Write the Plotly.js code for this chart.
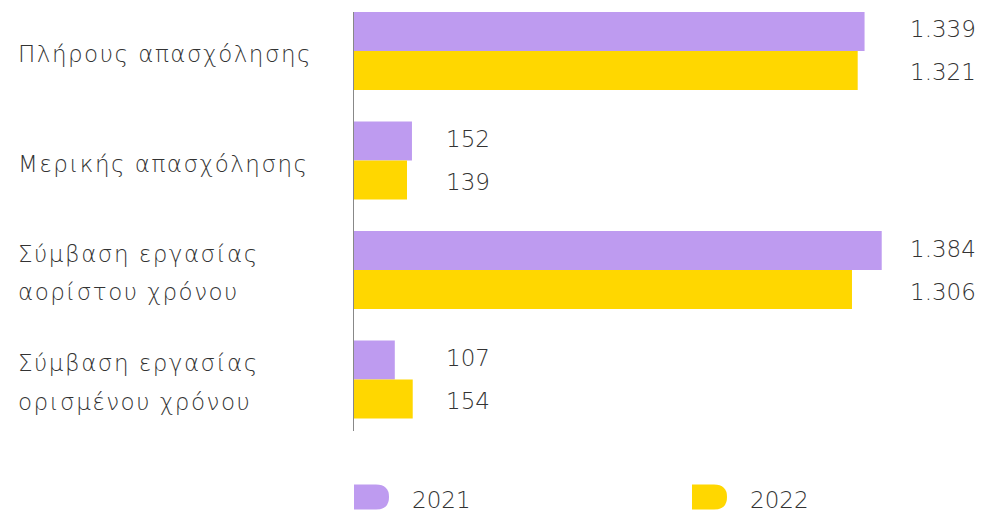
<!DOCTYPE html>
<html>
<head>
<meta charset="utf-8">
<script src="https://cdn.plot.ly/plotly-3.0.1.min.js"></script>
<style>html,body{margin:0;padding:0;background:#fff;}#chart{width:984px;height:515px;}</style>
</head>
<body>
<div id="chart"></div>
<script>
var categories = ["Πλήρους απασχόλησης", "Μερικής απασχόλησης", "Σύμβαση εργασίας<br>αορίστου χρόνου", "Σύμβαση εργασίας<br>ορισμένου χρόνου"];
var seriesNames = ["2021", "2022"];
var values2021 = [1339, 152, 1384, 107];
var values2022 = [1321, 139, 1306, 154];

var colors = ["#BE9BF0", "#FFD700"];
var FONT = "DejaVu Sans, sans-serif";
var FS = 23, FW = 200, TC = "#333";
var W = 984, H = 515, L = 354, R = 6, T = 12, B = 84;
var pw = W - L - R, ph = H - T - B;
function px2x(p){ return (p - L) / pw; }
function py2y(p){ return (H - B - p) / ph; }
function fmt(v){ return String(v).replace(/\B(?=(\d{3})+(?!\d))/g, "."); }

var idx = categories.map(function(_, i){ return i; });
var traces = [values2021, values2022].map(function(vals, s){
  return {
    type: "bar", orientation: "h", name: seriesNames[s],
    y: idx, x: vals, marker: {color: colors[s], line: {width: 0}},
    hoverinfo: "skip", showlegend: false
  };
});

var font = {family: FONT, size: FS, color: TC, weight: FW};
var annotations = [];
var LINE = 38.5;
categories.forEach(function(c, i){
  var lines = c.split("<br>");
  lines.forEach(function(t, k){
    annotations.push({xref: "paper", yref: "y", x: px2x(16), y: i,
      yshift: -(3 + (k - (lines.length - 1) / 2) * LINE), text: t, showarrow: false,
      xanchor: "left", yanchor: "middle", align: "left", font: font});
  });
});
var nCatAnn = annotations.length;
[values2021, values2022].forEach(function(vals, s){
  vals.forEach(function(v, i){
    var big = v > 1000;
    annotations.push({xref: "paper", yref: "y", x: big ? px2x(978) : px2x(444), y: i,
      yshift: s === 0 ? 21.5 : -21.5, text: fmt(v), showarrow: false,
      xanchor: big ? "right" : "left", yanchor: "middle", font: font});
  });
});

// custom legend
var legendX = [354, 692];
var shapes = [];
seriesNames.forEach(function(n, s){
  var x0 = legendX[s];
  shapes.push({type: "path", xref: "paper", yref: "paper",
    xsizemode: "pixel", ysizemode: "pixel",
    xanchor: px2x(x0), yanchor: py2y(497),
    path: "M 0 -12.5 L 22 -12.5 Q 35 -12.5 35 0 Q 35 12.5 22 12.5 L 0 12.5 Z",
    fillcolor: colors[s], line: {width: 0}});
  annotations.push({xref: "paper", yref: "paper", x: px2x(x0 + 56), y: py2y(500), text: n,
    showarrow: false, xanchor: "left", yanchor: "middle", font: font});
});

// wider tracking for category labels
var css = [];
for (var a = 0; a < nCatAnn; a++) css.push('.annotation[data-index="' + a + '"] text');
var st = document.createElement("style");
st.textContent = css.join(",") + "{letter-spacing:1.5px;}";
document.head.appendChild(st);

var layout = {
  width: W, height: H,
  margin: {l: L, r: R, t: T, b: B, pad: 0},
  paper_bgcolor: "#fff", plot_bgcolor: "#fff",
  barmode: "group", bargap: 0.288, bargroupgap: 0,
  showlegend: false,
  xaxis: {range: [0, pw / 0.3813], showgrid: false, zeroline: false, showticklabels: false, ticks: "", showline: false, fixedrange: true},
  yaxis: {range: [3.47, -0.356], showgrid: false, zeroline: false, showticklabels: false, ticks: "",
    showline: true, linecolor: "#888", linewidth: 1.5, fixedrange: true},
  shapes: shapes,
  annotations: annotations
};

Plotly.newPlot("chart", traces, layout, {staticPlot: true, displayModeBar: false});
</script>
</body>
</html>
